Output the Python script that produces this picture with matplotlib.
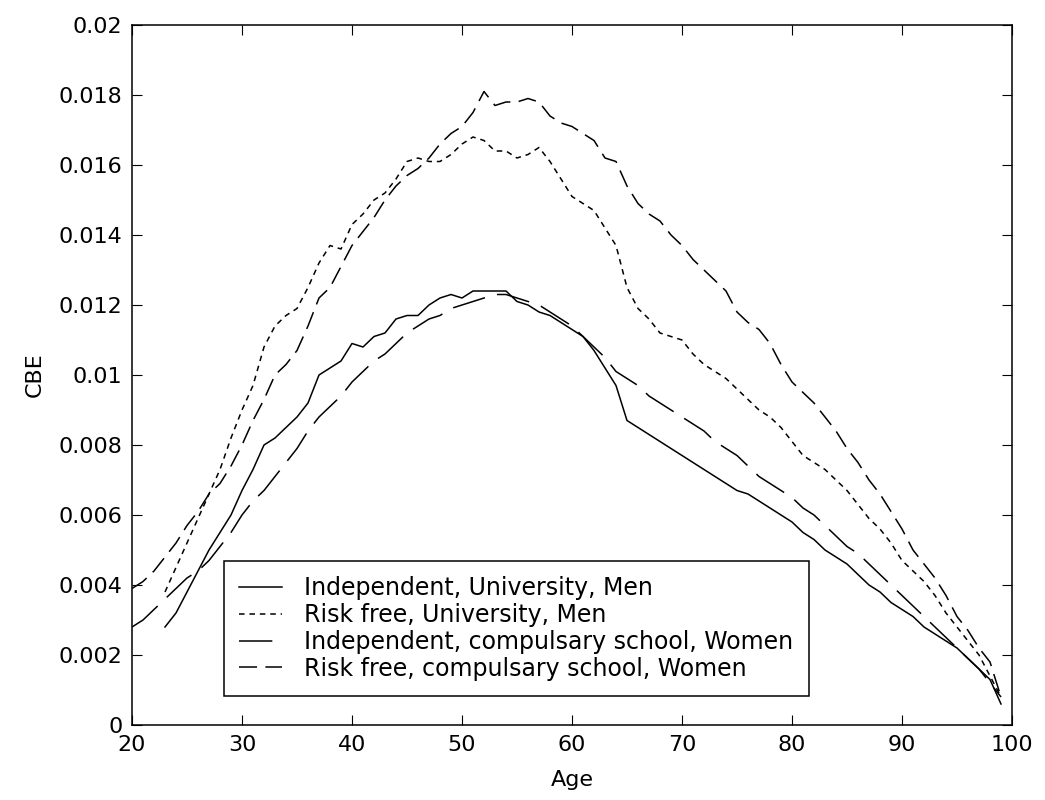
import matplotlib
matplotlib.use("Agg")
import matplotlib.pyplot as plt
from matplotlib.ticker import FuncFormatter

plt.rcParams['font.family'] = ['DejaVu Sans']
plt.rcParams['lines.scale_dashes'] = False

# consumption of bequest equivalents by age, four household types
age_univ = list(range(23, 100))
age_comp = list(range(20, 100))

indep_univ_men = [
    0.0028, 0.0032, 0.0038, 0.0044, 0.0050, 0.0055, 0.0060, 0.0067, 0.0073, 0.0080,
    0.0082, 0.0085, 0.0088, 0.0092, 0.0100, 0.0102, 0.0104, 0.0109, 0.0108, 0.0111,
    0.0112, 0.0116, 0.0117, 0.0117, 0.0120, 0.0122, 0.0123, 0.0122, 0.0124, 0.0124,
    0.0124, 0.0124, 0.0121, 0.0120, 0.0118, 0.0117, 0.0115, 0.0113, 0.0111, 0.0107,
    0.0102, 0.0097, 0.0087, 0.0085, 0.0083, 0.0081, 0.0079, 0.0077, 0.0075, 0.0073,
    0.0071, 0.0069, 0.0067, 0.0066, 0.0064, 0.0062, 0.0060, 0.0058, 0.0055, 0.0053,
    0.0050, 0.0048, 0.0046, 0.0043, 0.0040, 0.0038, 0.0035, 0.0033, 0.0031, 0.0028,
    0.0026, 0.0024, 0.0022, 0.0019, 0.0016, 0.0013, 0.0006,
]

riskfree_univ_men = [
    0.0038, 0.0045, 0.0052, 0.0059, 0.0066, 0.0073, 0.0082, 0.0090, 0.0097, 0.0108,
    0.0114, 0.0117, 0.0119, 0.0125, 0.0132, 0.0137, 0.0136, 0.0143, 0.0146, 0.0150,
    0.0152, 0.0156, 0.0161, 0.0162, 0.0161, 0.0161, 0.0163, 0.0166, 0.0168, 0.0167,
    0.0164, 0.0164, 0.0162, 0.0163, 0.0165, 0.0161, 0.0156, 0.0151, 0.0149, 0.0147,
    0.0142, 0.0137, 0.0125, 0.0119, 0.0116, 0.0112, 0.0111, 0.0110, 0.0106, 0.0103,
    0.0101, 0.0099, 0.0096, 0.0093, 0.0090, 0.0088, 0.0085, 0.0081, 0.0077, 0.0075,
    0.0073, 0.0070, 0.0067, 0.0063, 0.0059, 0.0056, 0.0052, 0.0047, 0.0044, 0.0041,
    0.0037, 0.0032, 0.0028, 0.0024, 0.0020, 0.0014, 0.0008,
]

indep_comp_women = [
    0.0028, 0.0030, 0.0033, 0.0036, 0.0039, 0.0042, 0.0044, 0.0047, 0.0051, 0.0055,
    0.0060, 0.0064, 0.0067, 0.0071, 0.0075, 0.0079, 0.0084, 0.0088, 0.0091, 0.0094,
    0.0098, 0.0101, 0.0104, 0.0106, 0.0109, 0.0112, 0.0114, 0.0116, 0.0117, 0.0119,
    0.0120, 0.0121, 0.0122, 0.0123, 0.0123, 0.0122, 0.0121, 0.0120, 0.0118, 0.0116,
    0.0114, 0.0111, 0.0108, 0.0105, 0.0101, 0.0099, 0.0097, 0.0094, 0.0092, 0.0090,
    0.0088, 0.0086, 0.0084, 0.0081, 0.0079, 0.0077, 0.0074, 0.0071, 0.0069, 0.0067,
    0.0065, 0.0062, 0.0060, 0.0057, 0.0054, 0.0051, 0.0049, 0.0046, 0.0043, 0.0040,
    0.0037, 0.0034, 0.0031, 0.0028, 0.0025, 0.0022, 0.0019, 0.0016, 0.0012, 0.0008,
]

riskfree_comp_women = [
    0.0039, 0.0041, 0.0044, 0.0048, 0.0052, 0.0057, 0.0061, 0.0066, 0.0069, 0.0074,
    0.0080, 0.0087, 0.0093, 0.0100, 0.0103, 0.0107, 0.0114, 0.0122, 0.0125, 0.0131,
    0.0137, 0.0141, 0.0145, 0.0150, 0.0154, 0.0157, 0.0159, 0.0162, 0.0166, 0.0169,
    0.0171, 0.0175, 0.0181, 0.0177, 0.0178, 0.0178, 0.0179, 0.0178, 0.0174, 0.0172,
    0.0171, 0.0169, 0.0167, 0.0162, 0.0161, 0.0154, 0.0149, 0.0146, 0.0144, 0.0140,
    0.0137, 0.0133, 0.0130, 0.0127, 0.0124, 0.0118, 0.0115, 0.0113, 0.0109, 0.0103,
    0.0098, 0.0095, 0.0092, 0.0088, 0.0084, 0.0079, 0.0075, 0.0070, 0.0066, 0.0061,
    0.0056, 0.0050, 0.0046, 0.0042, 0.0037, 0.0031, 0.0027, 0.0022, 0.0018, 0.0008,
]

labels = [
    "Independent, University, Men",
    "Risk free, University, Men",
    "Independent, compulsary school, Women",
    "Risk free, compulsary school, Women",
]

fig = plt.figure(figsize=(10.45, 8.0), dpi=100)
ax = fig.add_axes([132 / 1045, 75 / 800, 880 / 1045, 700 / 800])

lw = 1.1
ax.plot(age_univ, indep_univ_men, color='black', lw=lw, linestyle='-', label=labels[0])
ax.plot(age_univ, riskfree_univ_men, color='black', lw=lw, linestyle=(0, (4, 3.5)), label=labels[1])
ax.plot(age_comp, indep_comp_women, color='black', lw=lw, linestyle=(0, (24, 9)), label=labels[2])
ax.plot(age_comp, riskfree_comp_women, color='black', lw=lw, linestyle=(0, (13, 6)), label=labels[3])

ax.set_xlim(20, 100)
ax.set_ylim(0, 0.02)
ax.set_xticks(range(20, 101, 10))
ax.set_yticks([i * 0.002 for i in range(11)])
ax.yaxis.set_major_formatter(FuncFormatter(lambda v, p: '%g' % round(v, 4)))

ax.tick_params(direction='in', length=7, width=0.8, labelsize=16, pad=7,
               top=True, right=True, colors='black')
for s in ax.spines.values():
    s.set_linewidth(1.1)

ax.set_xlabel('Age', fontsize=16, labelpad=11)
ax.set_ylabel('CBE', fontsize=16, labelpad=10)

leg = ax.legend(loc='lower left', bbox_to_anchor=(92 / 880, 29 / 700), borderaxespad=0,
                fontsize=17, frameon=True, fancybox=False, framealpha=1,
                edgecolor='black', handlelength=1.82, handletextpad=0.93,
                labelspacing=0.12, borderpad=0.65)
leg.get_frame().set_linewidth(1.1)

fig.savefig('out.png', dpi=100, facecolor='white')
